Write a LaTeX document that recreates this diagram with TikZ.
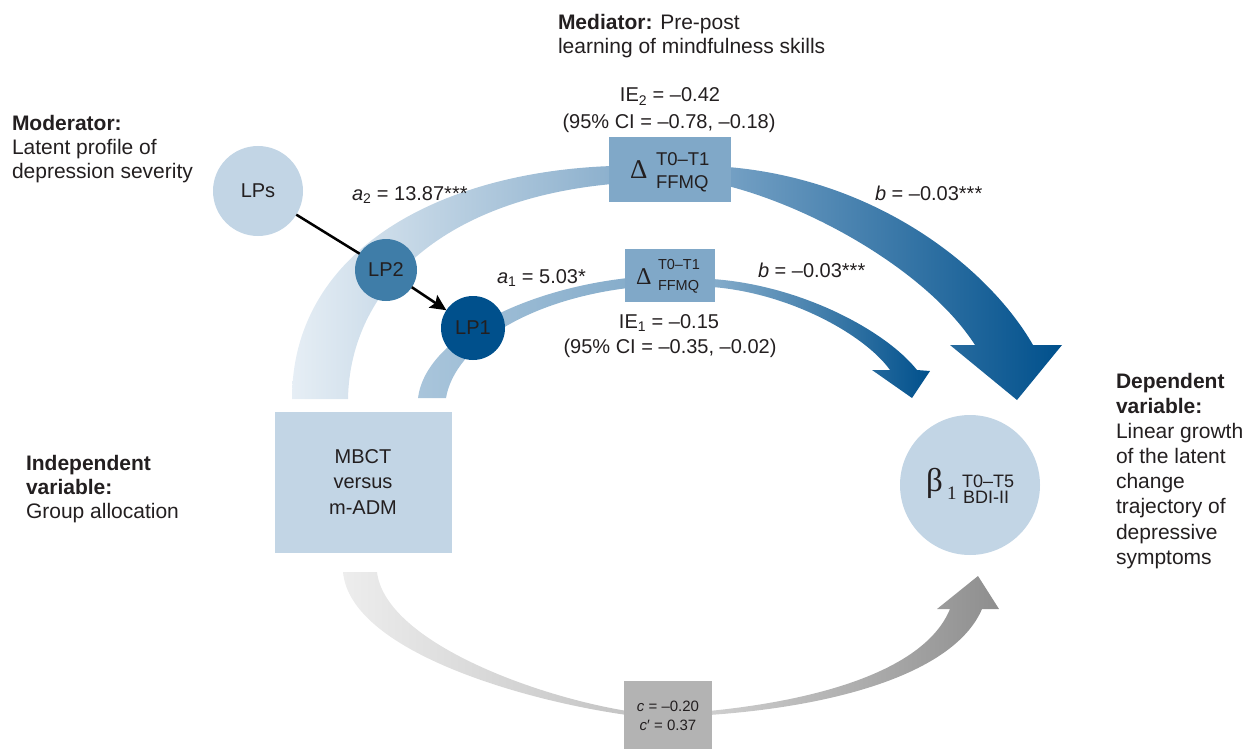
\documentclass[tikz,border=0pt]{standalone}
\usepackage{fontspec}
\setmainfont{Liberation Sans}
\newfontfamily\grk{Liberation Serif}
\usetikzlibrary{arrows.meta}
\definecolor{txt}{HTML}{231F20}
\definecolor{pale}{HTML}{C2D5E5}
\definecolor{lpmid}{HTML}{3F7DA8}
\definecolor{lpdark}{HTML}{00508C}
\definecolor{boxblue}{HTML}{80A8C8}
\definecolor{boxgray}{HTML}{B3B3B3}
\definecolor{bandAa}{HTML}{E6EEF5}
\definecolor{bandAb}{HTML}{8CB0CD}
\definecolor{bandBa}{HTML}{74A0C4}
\definecolor{bandCa}{HTML}{A9C5DB}
\definecolor{bandCb}{HTML}{86ADCB}
\definecolor{grayAa}{HTML}{EDEDED}
\definecolor{grayAb}{HTML}{C4C4C4}
\definecolor{grayBa}{HTML}{CFCFCF}
\definecolor{grayBb}{HTML}{8E8E8E}
\newcommand\myfs[2]{\fontsize{#1bp}{#2bp}\selectfont}
\begin{document}
\begin{tikzpicture}[x=1bp,y=-1bp,
  every node/.style={text=txt, inner sep=0pt, outer sep=0pt},
  lbl/.style={font=\myfs{20}{24}, anchor=base west},
  blk/.style={font=\myfs{21}{25}, anchor=base west},
  ctr/.style={font=\myfs{20}{24}, anchor=base},
  circ/.style={circle, font=\myfs{20}{24}},
  sbox/.style={rectangle, draw=none}]
\useasboundingbox (0,0) rectangle (1244,749);

% ---------- bands (connectors) ----------
% a2 path (large)
\shade[left color=bandAa, right color=bandAb]
  (292,399) .. controls (292,250) and (440,172) .. (612,166)
  -- (612,184) .. controls (440,200) and (350,290) .. (348,399) -- cycle;
\shade[left color=bandBa, right color=lpdark]
  (728,167) .. controls (880,180) and (990,270) .. (1033,345)
  -- (1062,345) -- (1017,400) -- (950,345) -- (975,345)
  .. controls (930,275) and (820,210) .. (728,186) -- cycle;
% a1 path (small)
\shade[left color=bandCa, right color=bandCb]
  (418,398) .. controls (425,340) and (520,290) .. (628,278)
  -- (628,288) .. controls (530,300) and (455,345) .. (446,398) -- cycle;
\shade[left color=bandCb, right color=lpdark]
  (712,279) .. controls (800,285) and (885,330) .. (917,370)
  -- (930,371) -- (912,398) -- (872,370) -- (890,370)
  .. controls (865,335) and (790,293) .. (712,287) -- cycle;
% c path (gray)
\shade[left color=grayAa, right color=grayAb]
  (343,572) .. controls (350,650) and (520,700) .. (627,715)
  -- (627,711) .. controls (530,695) and (385,640) .. (377,572) -- cycle;
\shade[left color=grayBa, right color=grayBb]
  (709,711) .. controls (820,700) and (925,670) .. (950,609)
  -- (937,609) -- (978,576) -- (999,609) -- (982,609)
  .. controls (955,672) and (840,706) .. (709,715) -- cycle;

% ---------- nodes ----------
\node[sbox, fill=pale, minimum width=177bp, minimum height=141bp] (mbct) at (363.5,482.5) {};
\node[sbox, fill=boxblue, minimum width=122bp, minimum height=65bp] (med2) at (670,169.5) {};
\node[sbox, fill=boxblue, minimum width=90bp, minimum height=53bp] (med1) at (670,275.5) {};
\node[sbox, fill=boxgray, minimum width=88bp, minimum height=68bp] (cbox) at (668,715) {};
\node[circ, fill=pale, minimum size=140bp] (dv) at (970,485) {};
\node[circ, fill=pale, minimum size=90bp] (LPs) at (258,191) {LPs};
\node[circ, fill=lpmid, minimum size=62bp] (LP2) at (386,270) {LP2};
\node[circ, fill=lpdark, minimum size=64bp] (LP1) at (473,328) {LP1};

\draw[line width=2.5bp, black] (LPs) -- (LP2);
\draw[line width=2.5bp, black, -{Stealth[length=16bp,width=15bp,inset=3bp]}] (LP2) -- (LP1);

% box texts
\node[ctr] (m1) at (363,463) {MBCT};
\node[ctr] (m2) at (363,488) {versus};
\node[ctr] (m3) at (363,514) {m-ADM};

\node[anchor=base west, font=\myfs{27}{27}\grk] (d2) at (630,178) {Δ};
\node[anchor=base west, font=\myfs{18.5}{22}] (d2a) at (656,165) {T0–T1};
\node[anchor=base west, font=\myfs{18.5}{22}] (d2b) at (656,188) {FFMQ};

\node[anchor=base west, font=\myfs{24}{24}\grk] (d1) at (636,284) {Δ};
\node[anchor=base west, font=\myfs{14.5}{17}] (d1a) at (658,269) {T0–T1};
\node[anchor=base west, font=\myfs{14.5}{17}] (d1b) at (658,290) {FFMQ};

\node[anchor=base west, font=\myfs{33}{33}\grk] (beta) at (926,491) {β};
\node[anchor=base west, font=\myfs{19}{19}\grk] (beta1) at (947,499) {1};
\node[anchor=base west, font=\myfs{18}{18}] (bt1) at (962,487) {T0–T5};
\node[anchor=base west, font=\myfs{18}{18}] (bt2) at (963,503) {BDI-II};

\node[anchor=base, font=\myfs{15}{18}] (c1) at (668,711) {\textit{c} = –0.20};
\node[anchor=base, font=\myfs{15}{18}] (c2) at (668,730) {\textit{c}′ = 0.37};

% path labels
\node[lbl] (la2) at (352,200) {\textit{a}\textsubscript{2} = 13.87***};
\node[lbl] (lb2) at (875,200) {\textit{b} = –0.03***};
\node[lbl] (la1) at (497,283) {\textit{a}\textsubscript{1} = 5.03*};
\node[lbl] (lb1) at (758,277) {\textit{b} = –0.03***};
\node[ctr] (ie2) at (670,102) {IE\textsubscript{2} = –0.42};
\node[ctr] (ci2) at (669,128) {(95\% CI = –0.78, –0.18)};
\node[ctr] (ie1) at (669,328) {IE\textsubscript{1} = –0.15};
\node[ctr] (ci1) at (670,353) {(95\% CI = –0.35, –0.02)};

% side texts
\node[blk] (med-a) at (558,30) {\textbf{Mediator:} Pre-post};
\node[blk] (med-b) at (558,54) {learning of mindfulness skills};

\node[blk] (mod-a) at (12,130) {\textbf{Moderator:}};
\node[blk] (mod-b) at (12,154) {Latent profile of};
\node[blk] (mod-c) at (12,178) {depression severity};

\node[blk] (iv-a) at (26,470) {\textbf{Independent}};
\node[blk] (iv-b) at (26,494) {\textbf{variable:}};
\node[blk] (iv-c) at (26,518) {Group allocation};

\node[blk] (dv-a) at (1116,388) {\textbf{Dependent}};
\node[blk] (dv-b) at (1116,413) {\textbf{variable:}};
\node[blk] (dv-c) at (1116,438) {Linear growth};
\node[blk] (dv-d) at (1116,463) {of the latent};
\node[blk] (dv-e) at (1116,488) {change};
\node[blk] (dv-f) at (1116,513) {trajectory of};
\node[blk] (dv-g) at (1116,539) {depressive};
\node[blk] (dv-h) at (1116,564) {symptoms};
\end{tikzpicture}
\end{document}
